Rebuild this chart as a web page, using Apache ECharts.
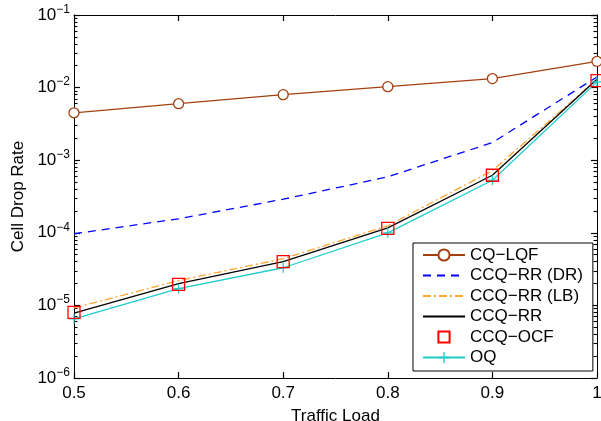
<!DOCTYPE html>
<html><head><meta charset="utf-8">
<script src="https://cdn.jsdelivr.net/npm/echarts@6/dist/echarts.min.js"></script>
<style>html,body{margin:0;padding:0;background:#fff}#c{width:601px;height:421px}</style>
</head><body><div id="c"></div>
<script>
const loads = [0.5, 0.6, 0.7, 0.8, 0.9, 1.0];
const cqLqf  = [4.5e-3, 6.0e-3, 8.0e-3, 1.03e-2, 1.33e-2, 2.3e-2];
const ccqDr  = [9.7e-5, 1.56e-4, 2.9e-4, 5.9e-4, 1.75e-3, 1.4e-2];
const ccqLb  = [9.2e-6, 2.2e-5, 4.4e-5, 1.25e-4, 7.2e-4, 1.3e-2];
const ccqRr  = [7.8e-6, 2.0e-5, 4.0e-5, 1.17e-4, 6.2e-4, 1.3e-2];
const ccqOcf = [8.0e-6, 1.95e-5, 4.0e-5, 1.15e-4, 6.2e-4, 1.25e-2];
const oq     = [6.5e-6, 1.7e-5, 3.3e-5, 1.0e-4, 5.3e-4, 1.2e-2];
const names = ['CQ\u2212LQF','CCQ\u2212RR (DR)','CCQ\u2212RR (LB)','CCQ\u2212RR','CCQ\u2212OCF','OQ'];
const minorVals = [];
for (let e = -6; e < -1; e++) for (let k = 2; k <= 9; k++) minorVals.push(k * Math.pow(10, e));

const pts = arr => loads.map((x, i) => [x, arr[i]]);
const font = 'Liberation Sans, Arial, Helvetica, sans-serif';
const chart = echarts.init(document.getElementById('c'));
const yBase = {type:'log', logBase:10, min:1e-6, max:1e-1};
const plus = 'path://M4.4,0h1.2v10h-1.2zM0,4.4h10v1.2h-10z';
const noSym = {color:'rgba(0,0,0,0)', borderWidth:0, borderColor:'rgba(0,0,0,0)'};
const axLine = () => ({show:true, lineStyle:{color:'#000', width:1}});
const majTick = () => ({show:true, inside:true, length:6, lineStyle:{color:'#000', width:1.2}});
const minTick = () => ({show:true, inside:true, length:3.5, customValues:minorVals, lineStyle:{color:'#000', width:1.1}});
chart.setOption({
  animation:false,
  backgroundColor:'#fff',
  grid:{left:74, right:4, top:15, bottom:43, outerBoundsMode:'none'},
  xAxis:[
    {type:'value', min:0.5, max:1, interval:0.1, position:'bottom',
     name:'Traffic Load', nameLocation:'middle', nameGap:30,
     nameTextStyle:{fontFamily:font, fontSize:17, color:'#000'},
     axisLine:axLine(), splitLine:{show:false}, axisTick:majTick(),
     axisLabel:{fontFamily:font, fontSize:17, color:'#000', margin:7}},
    {type:'value', min:0.5, max:1, interval:0.1, position:'top',
     axisLine:axLine(), splitLine:{show:false}, axisTick:majTick(),
     axisLabel:{show:false}}
  ],
  yAxis:[
    Object.assign({}, yBase, {position:'left',
     name:'Cell Drop Rate', nameLocation:'middle', nameGap:44,
     nameTextStyle:{fontFamily:font, fontSize:17, color:'#000'},
     axisLine:axLine(), splitLine:{show:false}, axisTick:majTick(),
     axisLabel:{margin:4, color:'#000',
       formatter: v => '{b|10}{s|\u2212' + Math.round(-Math.log10(v)) + '}',
       rich:{b:{fontFamily:font, fontSize:17, color:'#000'},
             s:{fontFamily:font, fontSize:12, color:'#000', padding:[0,0,11,0]}}}}),
    Object.assign({}, yBase, {position:'left',
     axisLine:{show:false}, splitLine:{show:false}, axisLabel:{show:false}, axisTick:minTick()}),
    Object.assign({}, yBase, {position:'right',
     axisLine:axLine(), splitLine:{show:false}, axisLabel:{show:false}, axisTick:majTick()}),
    Object.assign({}, yBase, {position:'right',
     axisLine:{show:false}, splitLine:{show:false}, axisLabel:{show:false}, axisTick:minTick()})
  ],
  legend:{orient:'vertical', left:413, top:243, padding:[3.5,10,5,9],
    itemWidth:42, itemHeight:14, itemGap:3.5,
    backgroundColor:'#fff', borderColor:'#000', borderWidth:1, borderRadius:0,
    textStyle:{fontFamily:font, fontSize:17, lineHeight:17, color:'#000'},
    data:[
      {name:names[0]},
      {name:names[1], itemStyle:noSym},
      {name:names[2], itemStyle:noSym},
      {name:names[3], itemStyle:noSym},
      {name:names[4]},
      {name:names[5]}
    ]},
  series:[
    {name:names[0], type:'line', data:pts(cqLqf), symbol:'circle', symbolSize:10,
     lineStyle:{color:'#a3400f', width:1.3}, itemStyle:{color:'#fff', borderColor:'#a3400f', borderWidth:1.3}},
    {name:names[1], type:'line', data:pts(ccqDr), symbol:'none',
     lineStyle:{color:'#0000ff', width:1.3, type:[8,6]}, itemStyle:{color:'#0000ff'}},
    {name:names[2], type:'line', data:pts(ccqLb), symbol:'none',
     lineStyle:{color:'#ffa530', width:1.3, type:[8,3,2,3]}, itemStyle:{color:'#ffa530'}},
    {name:names[3], type:'line', data:pts(ccqRr), symbol:'none',
     lineStyle:{color:'#000', width:1.3}, itemStyle:{color:'#000'}},
    {name:names[4], type:'line', data:pts(ccqOcf), symbol:'rect', symbolSize:12,
     lineStyle:{width:0, opacity:0}, itemStyle:{color:'rgba(0,0,0,0)', borderColor:'#ff0000', borderWidth:1.3}, z:5},
    {name:names[5], type:'line', data:pts(oq), symbol:plus, symbolSize:10,
     lineStyle:{color:'#1ecccc', width:1.3}, itemStyle:{color:'#1ecccc'}}
  ]
});
</script></body></html>
